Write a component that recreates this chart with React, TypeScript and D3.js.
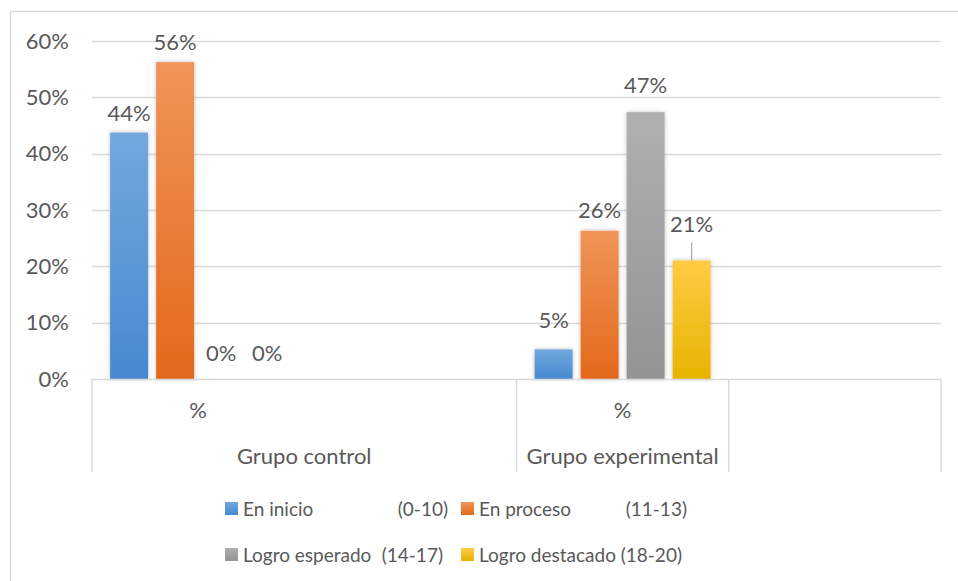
import React, { useEffect, useRef } from 'react';
import * as d3 from 'd3';

// category axis: lower level slots and upper level groups
const slots = ['s0', 's1', 's2', 's3'];
const slotLabels = ['%', '', '%', ''];
const groupNames = ['Grupo control', 'Grupo experimental', ''];
const groupSlots = [['s0', 's1'], ['s2'], ['s3']];

const seriesNames = ['En inicio', 'En proceso', 'Logro esperado', 'Logro destacado'];
const seriesRanges = ['(0-10)', '(11-13)', '(14-17)', '(18-20)'];

// share of students per level
const controlValues = [0.4375, 0.5625, 0, 0];
const experimentalValues = [0.0526, 0.2632, 0.4737, 0.2105];
const valueSlots = ['s0', 's2'];

const yTicks = [0, 0.1, 0.2, 0.3, 0.4, 0.5, 0.6];

const colors = [
  ['#72a8de', '#4689cf'],
  ['#f19459', '#e2691a'],
  ['#b0b0b0', '#939393'],
  ['#ffcb45', '#e8b300'],
];
// how far each data label sits above its bar (moved by hand in the original)
const labelLift = [[12, 12, 18, 18], [21, 13, 19, 28]];

const FONT = 'Lato, "Open Sans", sans-serif';
const TEXT = '#595959';
const GRID = '#d9d9d9';

const App = () => {
  const ref = useRef<SVGSVGElement>(null);

  useEffect(() => {
    const width = 958, height = 581;
    const left = 92, right = 941, top = 41, bottom = 379;
    const svg = d3.select(ref.current);
    svg.selectAll('*').remove();
    svg.attr('width', width).attr('height', height);

    const defs = svg.append('defs');
    colors.forEach((c, i) => {
      const g = defs.append('linearGradient').attr('id', `grad${i}`).attr('x1', 0).attr('y1', 0).attr('x2', 0).attr('y2', 1);
      g.append('stop').attr('offset', '0%').attr('stop-color', c[0]);
      g.append('stop').attr('offset', '100%').attr('stop-color', c[1]);
    });
    defs.append('filter').attr('id', 'shadow').attr('x', '-30%').attr('y', '-10%').attr('width', '160%').attr('height', '120%')
      .append('feDropShadow').attr('dx', 0).attr('dy', 0).attr('stdDeviation', 2).attr('flood-color', '#000').attr('flood-opacity', 0.25);

    // chart border
    svg.append('rect').attr('x', 10.5).attr('y', 11.5).attr('width', 960).attr('height', 600)
      .attr('fill', '#fff').attr('stroke', GRID).attr('stroke-width', 1.5);

    const y = d3.scaleLinear().domain([0, 0.6]).range([bottom, top]);
    const x0 = d3.scaleBand().domain(slots).range([left, right]).padding(0);
    const x1 = d3.scaleBand().domain(seriesNames).range([0, x0.bandwidth()]).paddingInner(0.174).paddingOuter(0.394);

    // gridlines and tick labels
    svg.append('g').selectAll('line').data(yTicks.slice(1)).join('line')
      .attr('x1', left).attr('x2', right).attr('y1', d => Math.round(y(d)) + 0.5).attr('y2', d => Math.round(y(d)) + 0.5)
      .attr('stroke', GRID).attr('stroke-width', 1.5);
    svg.append('g').selectAll('text').data(yTicks).join('text')
      .attr('x', 69).attr('y', d => y(d)).attr('dy', '0.35em').attr('text-anchor', 'end')
      .style('font-family', FONT).style('font-size', '22px').attr('fill', TEXT)
      .text(d => d3.format('.0%')(d));

    // bars
    const rows = [controlValues, experimentalValues];
    rows.forEach((vals, r) => {
      const gx = x0(valueSlots[r])!;
      vals.forEach((v, i) => {
        const bx = gx + x1(seriesNames[i])!;
        const bw = x1.bandwidth();
        if (v > 0) {
          svg.append('rect').attr('x', bx).attr('y', y(v)).attr('width', bw).attr('height', y(0) - y(v))
            .attr('fill', `url(#grad${i})`).attr('filter', 'url(#shadow)');
        }
        const ly = y(v) - labelLift[r][i];
        if (labelLift[r][i] > 25) {
          svg.append('line').attr('x1', bx + bw / 2).attr('x2', bx + bw / 2).attr('y1', ly + 10).attr('y2', y(v))
            .attr('stroke', '#a6a6a6').attr('stroke-width', 1.2);
        }
        svg.append('text').attr('x', bx + bw / 2).attr('y', ly).attr('text-anchor', 'middle')
          .style('font-family', FONT).style('font-size', '22px').attr('fill', TEXT)
          .text(d3.format('.0%')(v));
      });
    });

    // category axis
    svg.append('line').attr('x1', left).attr('x2', right).attr('y1', bottom + 0.5).attr('y2', bottom + 0.5)
      .attr('stroke', GRID).attr('stroke-width', 1.5);
    const bounds = [left, ...groupSlots.map(s => x0(s[s.length - 1])! + x0.bandwidth())];
    svg.append('g').selectAll('line').data(bounds).join('line')
      .attr('x1', d => d).attr('x2', d => d).attr('y1', bottom).attr('y2', 472)
      .attr('stroke', GRID).attr('stroke-width', 1.5);
    svg.append('g').selectAll('text').data(slots).join('text')
      .attr('x', d => x0(d)! + x0.bandwidth() / 2).attr('y', 418).attr('text-anchor', 'middle')
      .style('font-family', FONT).style('font-size', '22px').attr('fill', TEXT)
      .text((d, i) => slotLabels[i]);
    svg.append('g').selectAll('text').data(groupNames).join('text')
      .attr('x', (d, i) => (x0(groupSlots[i][0])! + x0(groupSlots[i][groupSlots[i].length - 1])! + x0.bandwidth()) / 2)
      .attr('y', 464).attr('text-anchor', 'middle')
      .style('font-family', FONT).style('font-size', '22px').attr('fill', TEXT)
      .text(d => d);

    // legend
    const legendCols = [225, 461];
    const legendEnds = [448, 687];
    const legendRows = [516, 562];
    seriesNames.forEach((name, i) => {
      const col = i % 2, row = Math.floor(i / 2);
      const lx = legendCols[col], ly = legendRows[row];
      svg.append('rect').attr('x', lx).attr('y', ly - 14).attr('width', 13).attr('height', 13)
        .attr('fill', `url(#grad${i})`);
      svg.append('text').attr('x', lx + 18).attr('y', ly)
        .style('font-family', FONT).style('font-size', '19px').attr('fill', TEXT).text(name);
      svg.append('text').attr('x', legendEnds[col] - (row === 1 ? 5 : 0)).attr('y', ly).attr('text-anchor', 'end')
        .style('font-family', FONT).style('font-size', '19px').attr('fill', TEXT).text(seriesRanges[i]);
    });
  }, []);

  return <svg ref={ref} style={{ position: 'absolute', left: 0, top: 0 }} />;
};

export default App;
